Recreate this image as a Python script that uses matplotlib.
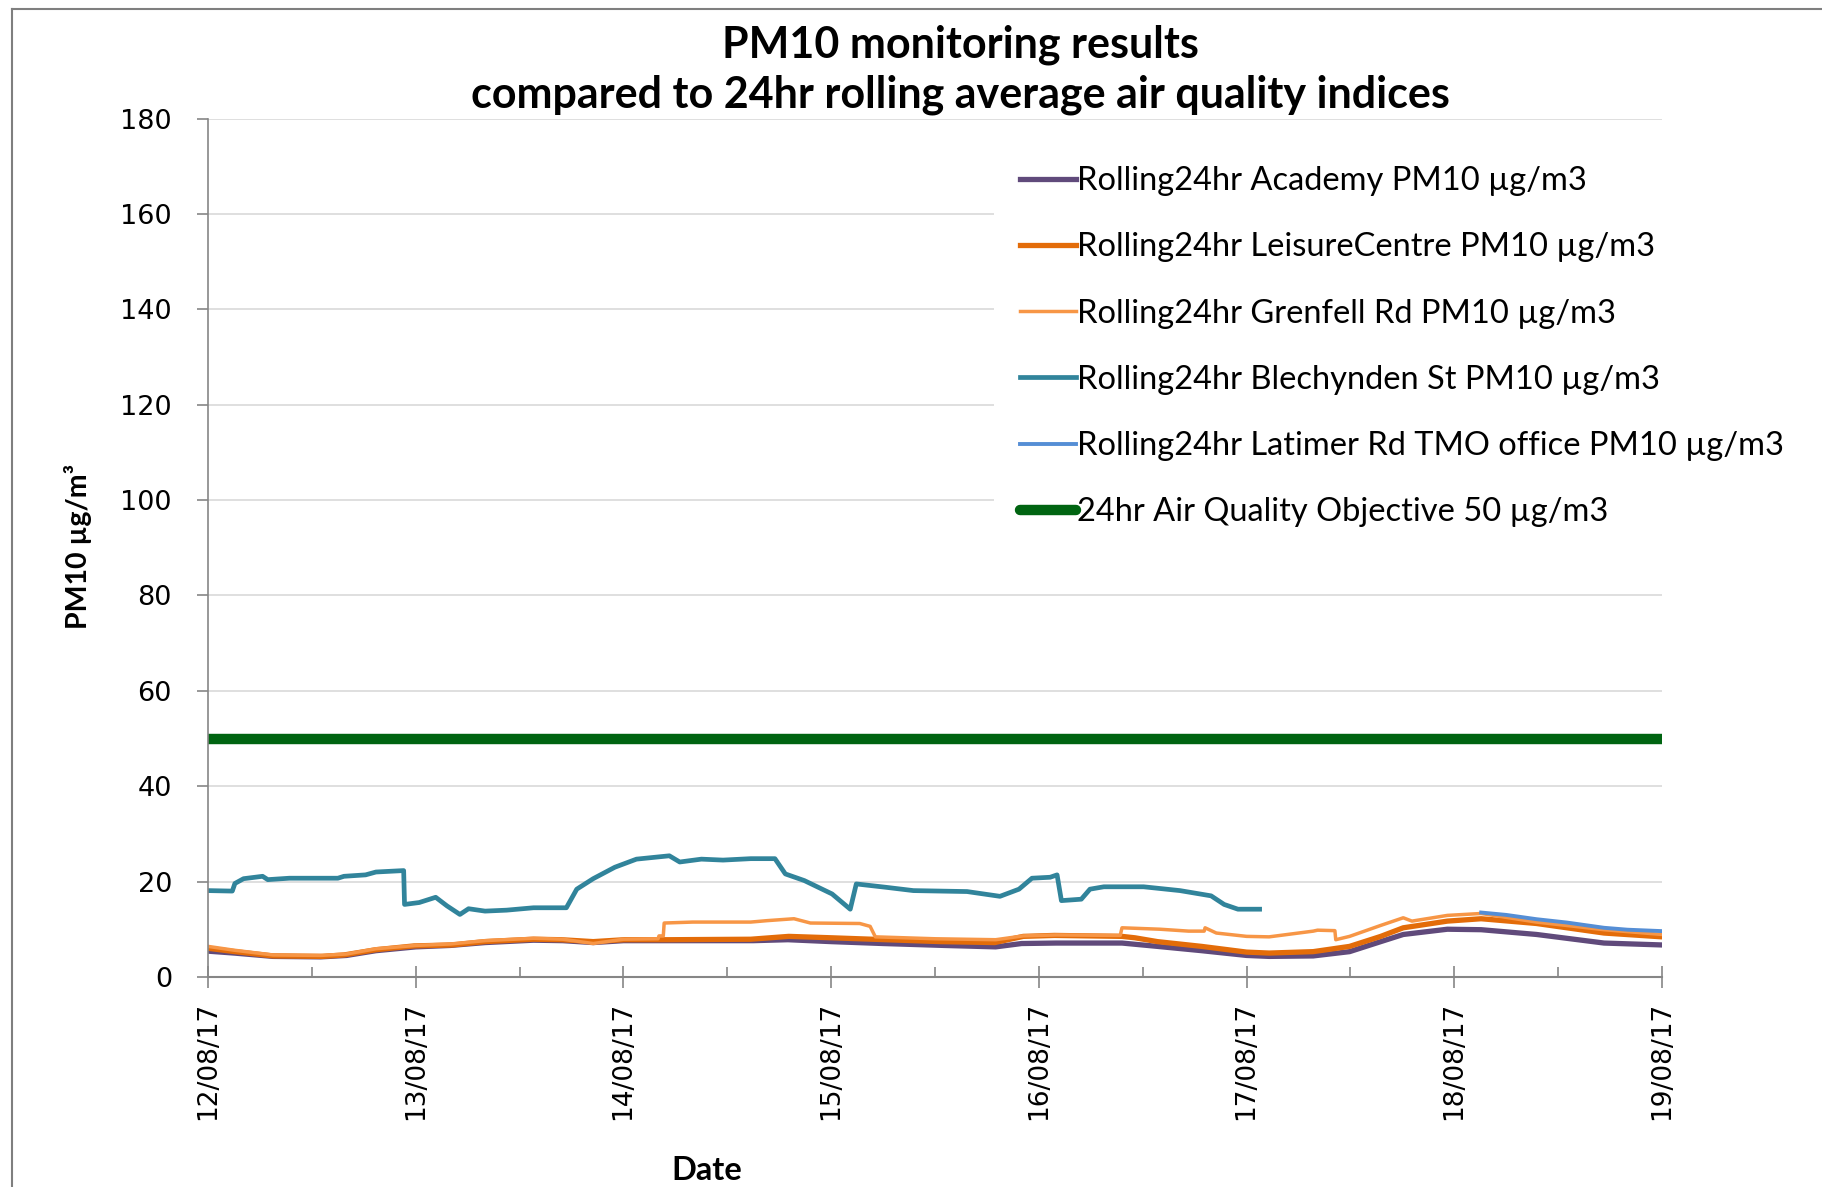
import matplotlib
matplotlib.use("Agg")
import matplotlib.pyplot as plt
from matplotlib.lines import Line2D

# hours from 12/08/17 00:00
academy_h = [0, 3, 7.5, 13, 16, 19.4, 24, 28, 32, 37.6, 41, 44.5, 48, 53, 63, 67, 72, 78, 85, 91,
             94, 98, 105.6, 109.7, 114.8, 120, 122.6, 127.7, 131.9, 135.5, 138.1, 143.2, 147.1,
             153.5, 161.3, 168]
academy_v = [5.4, 5.0, 4.3, 4.2, 4.5, 5.5, 6.3, 6.6, 7.2, 7.7, 7.6, 7.2, 7.6, 7.6, 7.6, 7.8, 7.4, 7.0,
             6.6, 6.3, 7.0, 7.1, 7.1, 6.4, 5.5, 4.5, 4.3, 4.4, 5.3, 7.4, 8.9, 10.0, 9.9, 8.9, 7.1, 6.7]

leisure_h = [0, 3.1, 7.5, 13.2, 15.7, 19.4, 23.8, 28.2, 32, 37.6, 40.8, 44.5, 48.1, 53.3, 62.7, 67.1,
             72.1, 78.3, 84.6, 90.9, 94.2, 97.8, 105.6, 107.1, 109.7, 114.8, 120, 122.6, 127.7,
             131.9, 135.5, 138.1, 143.2, 147.1, 153.5, 161.3, 168]
leisure_v = [6.0, 5.3, 4.4, 4.3, 4.6, 5.7, 6.5, 6.7, 7.4, 7.9, 7.8, 7.4, 7.8, 7.8, 7.9, 8.5, 8.2, 7.8,
             7.4, 7.2, 8.5, 8.7, 8.5, 8.2, 7.4, 6.4, 5.2, 5.0, 5.3, 6.4, 8.5, 10.3, 11.7, 12.2, 11.2,
             9.2, 8.4]

grenfell_h = [0, 3, 7.5, 13, 16, 19.4, 24, 28, 32, 37.6, 41, 44.5, 48, 52.0, 52.1, 52.6, 52.7, 56,
              62.7, 64.6, 67.7, 69.6, 75.3, 76.5, 77.1, 84, 91, 94.2, 98, 105.4, 105.6, 110, 113.3,
              115.1, 115.2, 116.5, 120, 122.6, 127.7, 128.2, 130.2, 130.3, 131.9, 135.5, 138.1,
              139.1, 143.2, 147.1, 153.5, 161.3, 168]
grenfell_v = [6.4, 5.6, 4.6, 4.5, 4.8, 5.9, 6.6, 6.9, 7.6, 8.1, 7.9, 7.0, 7.9, 8.0, 8.6, 8.6, 11.3,
              11.5, 11.5, 11.8, 12.2, 11.3, 11.2, 10.6, 8.4, 8.0, 7.8, 8.6, 8.8, 8.7, 10.3, 10.0,
              9.6, 9.6, 10.3, 9.2, 8.5, 8.4, 9.6, 9.8, 9.7, 7.8, 8.5, 10.8, 12.4, 11.7, 12.9, 13.3,
              11.5, 9.9, 8.9]

blech_h = [0, 2.8, 3.1, 4.1, 6.3, 6.9, 9.4, 15.0, 15.7, 18.2, 19.4, 22.6, 22.7, 24.4, 26.3, 27.6,
           29.1, 30.1, 32.0, 34.5, 37.6, 41.4, 42.6, 44.5, 47.0, 49.5, 53.3, 54.5, 57.0, 59.5, 62.7,
           65.5, 66.7, 68.9, 72.1, 74.2, 74.9, 78.3, 81.5, 87.7, 91.5, 93.7, 95.2, 97.3, 98.1,
           98.6, 100.9, 101.9, 103.5, 108.1, 112.3, 115.9, 117.4, 119.0, 121.5]
blech_v = [18.1, 18.0, 19.6, 20.6, 21.1, 20.4, 20.7, 20.7, 21.1, 21.4, 22.0, 22.3, 15.2, 15.6, 16.7,
           14.9, 13.1, 14.3, 13.8, 14.0, 14.5, 14.5, 18.4, 20.6, 23.0, 24.7, 25.4, 24.1, 24.7, 24.5,
           24.8, 24.8, 21.6, 20.2, 17.4, 14.2, 19.5, 18.8, 18.1, 17.9, 16.9, 18.4, 20.7, 20.9,
           21.4, 16.0, 16.3, 18.4, 18.9, 18.9, 18.1, 17.0, 15.2, 14.2, 14.2]

latimer_h = [147.1, 150, 153.5, 157, 161.3, 164, 168]
latimer_v = [13.5, 13.0, 12.1, 11.4, 10.3, 9.9, 9.6]

objective_h = [0, 168]
objective_v = [50, 50]

date_labels = ["12/08/17", "13/08/17", "14/08/17", "15/08/17",
               "16/08/17", "17/08/17", "18/08/17", "19/08/17"]
y_ticks = [0, 20, 40, 60, 80, 100, 120, 140, 160, 180]

labels = ["Rolling24hr Academy PM10 µg/m3",
          "Rolling24hr LeisureCentre PM10 µg/m3",
          "Rolling24hr Grenfell Rd PM10 µg/m3",
          "Rolling24hr Blechynden St PM10 µg/m3",
          "Rolling24hr Latimer Rd TMO office PM10 µg/m3",
          "24hr Air Quality Objective 50 µg/m3"]

fig = plt.figure(figsize=(18.22, 11.87), dpi=100)
ax = fig.add_axes([0.1142, 0.177, 0.798, 0.723])

ax.plot(academy_h, academy_v, color="#604a7b", lw=3.8, label=labels[0])
ax.plot(leisure_h, leisure_v, color="#e36c09", lw=3.8, label=labels[1])
ax.plot(grenfell_h, grenfell_v, color="#f79646", lw=2.5, label=labels[2])
ax.plot(blech_h, blech_v, color="#31849b", lw=3.4, label=labels[3])
ax.plot(latimer_h, latimer_v, color="#558ed5", lw=2.8, label=labels[4])
ax.plot(objective_h, objective_v, color="#006411", lw=7.5, label=labels[5],
        solid_capstyle="round")

ax.set_xlim(0, 168)
ax.set_ylim(0, 180)
ax.set_xticks([24 * i for i in range(len(date_labels))])
ax.set_xticklabels(date_labels, rotation=90, fontsize=19, family="DejaVu Sans")
ax.set_xticks([12 + 24 * i for i in range(7)], minor=True)
ax.set_yticks(y_ticks)
ax.set_yticklabels([str(v) for v in y_ticks], fontsize=19.5, family="DejaVu Sans")
ax.tick_params(axis="x", which="major", direction="inout", length=16, width=1.2,
               color="#868686", pad=10)
ax.tick_params(axis="x", which="minor", direction="in", length=7, width=1.2, color="#868686")
ax.tick_params(axis="y", direction="out", length=8, width=1.2, color="#868686", pad=18)

ax.grid(axis="y", color="#d9d9d9", lw=1.2)
ax.set_axisbelow(True)
for s in ["top", "right"]:
    ax.spines[s].set_visible(False)
ax.spines["left"].set_color("#868686")
ax.spines["bottom"].set_color("#868686")
ax.spines["left"].set_linewidth(1.2)
ax.spines["bottom"].set_linewidth(1.5)

leg = ax.legend(loc="upper left", bbox_to_anchor=(994 / 1822, 1 - 140 / 1187),
                bbox_transform=fig.transFigure, prop={"family": "Lato", "size": 23.5},
                handlelength=1.7, handletextpad=0.05, labelspacing=1.11, borderpad=0.8,
                borderaxespad=0, frameon=True, fancybox=False, facecolor="white",
                edgecolor="none", framealpha=1)

fig.text(0.527, 0.962, "PM10 monitoring results", ha="center", va="center",
         family="Lato", weight="bold", fontsize=31)
fig.text(0.527, 0.920, "compared to 24hr rolling average air quality indices", ha="center",
         va="center", family="Lato", weight="bold", fontsize=31)
fig.text(0.0428, 0.540, "PM10 µg/m³", rotation=90, ha="center", va="center",
         family="Lato", weight="bold", fontsize=20.5)
fig.text(0.388, 0.0143, "Date", ha="center", va="center", family="Lato", weight="bold",
         fontsize=23.5)

# outer border (cut at the right and bottom)
fig.add_artist(Line2D([12 / 1822, 1], [1 - 9 / 1187, 1 - 9 / 1187], color="#7f7f7f", lw=1.5,
                      transform=fig.transFigure))
fig.add_artist(Line2D([12 / 1822, 12 / 1822], [0, 1 - 9 / 1187], color="#7f7f7f", lw=1.5,
                      transform=fig.transFigure))

fig.savefig("out.png", dpi=100)
